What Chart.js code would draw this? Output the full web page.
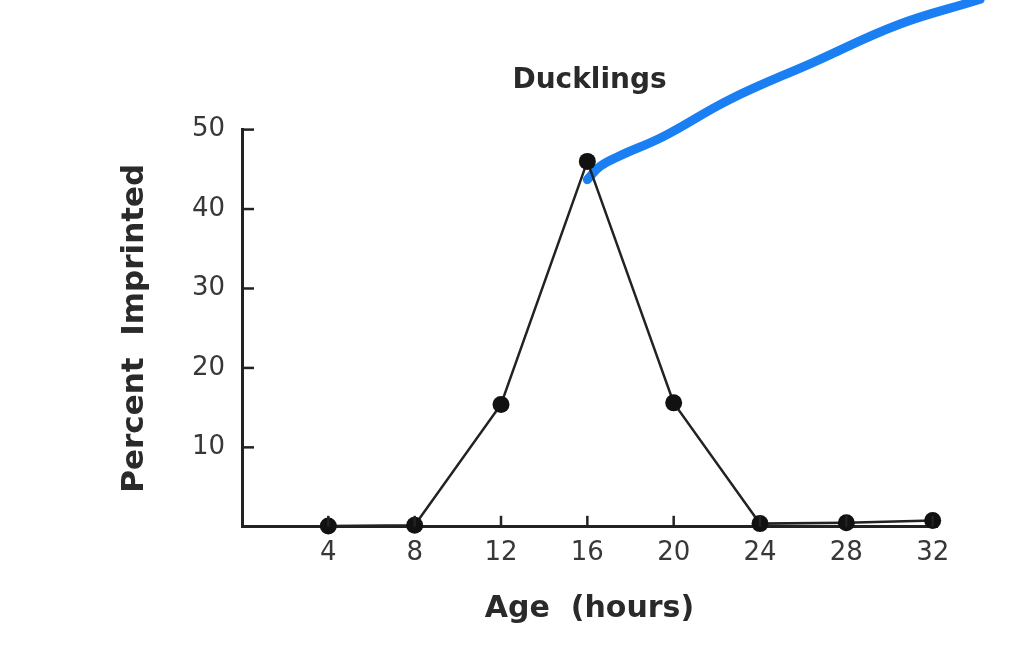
<!DOCTYPE html>
<html>
<head>
<meta charset="utf-8">
<script src="https://cdn.jsdelivr.net/npm/chart.js@4.4.1/dist/chart.umd.min.js"></script>
<style>
  html, body { margin: 0; padding: 0; background: #ffffff; }
  #wrap { width: 1034px; height: 646px; }
</style>
</head>
<body>
<div id="wrap"><canvas id="chart"></canvas></div>
<script>
// Data
const ageHours = [4, 8, 12, 16, 20, 24, 28, 32];
const percentImprinted = [0.1, 0.2, 15.4, 46, 15.6, 0.4, 0.5, 0.8];
const xTickValues = [4, 8, 12, 16, 20, 24, 28, 32];
const yTickValues = [10, 20, 30, 40, 50];

// Blue hand-drawn annotation stroke, in the chart's data units
const noteX = [16.0, 16.6, 17.5, 19.5, 22.6, 26.5, 30.4, 34.2, 37.0];
const noteY = [43.7, 45.4, 46.7, 49.1, 53.8, 58.5, 63.2, 66.4, 68.9];

const ink = '#222222';
const fontFamily = '"DejaVu Sans", Verdana, sans-serif';

// Inward tick marks, like the printed figure
const innerTicks = {
    id: 'innerTicks',
    afterDatasetsDraw(chart) {
        const { ctx, chartArea, scales } = chart;
        ctx.save();
        ctx.strokeStyle = ink;
        ctx.lineWidth = 2.5;
        yTickValues.forEach(v => {
            const py = scales.y.getPixelForValue(v);
            ctx.beginPath();
            ctx.moveTo(chartArea.left, py);
            ctx.lineTo(chartArea.left + 12, py);
            ctx.stroke();
        });
        xTickValues.forEach(v => {
            const px = scales.x.getPixelForValue(v);
            ctx.beginPath();
            ctx.moveTo(px, chartArea.bottom);
            ctx.lineTo(px, chartArea.bottom - 11);
            ctx.stroke();
        });
        ctx.restore();
    }
};

const ctx = document.getElementById('chart').getContext('2d');
new Chart(ctx, {
    type: 'line',
    data: {
        datasets: [{
            label: 'Ducklings',
            data: ageHours.map((a, i) => ({ x: a, y: percentImprinted[i] })),
            borderColor: ink,
            borderWidth: 2.5,
            pointRadius: 8.5,
            pointBackgroundColor: '#111111',
            pointBorderWidth: 0,
            tension: 0,
            clip: false
        }, {
            label: 'note',
            data: noteX.map((a, i) => ({ x: a, y: noteY[i] })),
            borderColor: '#1a7ff2',
            borderWidth: 9,
            borderCapStyle: 'round',
            borderJoinStyle: 'round',
            pointRadius: 0,
            tension: 0.4,
            clip: false
        }]
    },
    options: {
        responsive: true,
        maintainAspectRatio: false,
        animation: false,
        layout: { padding: { left: 100, right: 97, top: 0, bottom: 15 } },
        plugins: {
            legend: { display: false },
            tooltip: { enabled: false },
            title: {
                display: true,
                text: 'Ducklings',
                fullSize: false,
                color: '#2a2a2a',
                font: { family: fontFamily, size: 28, weight: 'bold' },
                padding: { top: 64, bottom: 32 }
            }
        },
        scales: {
            x: {
                type: 'linear',
                min: 0,
                max: 32.2,
                afterBuildTicks: s => { s.ticks = xTickValues.map(v => ({ value: v })); },
                grid: { display: false, drawTicks: false },
                border: { display: true, color: ink, width: 3 },
                ticks: {
                    color: '#383838',
                    padding: 11,
                    maxRotation: 0,
                    font: { family: fontFamily, size: 26 }
                },
                title: {
                    display: true,
                    text: 'Age  (hours)',
                    color: '#2a2a2a',
                    font: { family: fontFamily, size: 30, weight: 'bold' },
                    padding: { top: 11, bottom: 4 }
                }
            },
            y: {
                min: 0,
                max: 50,
                afterBuildTicks: s => { s.ticks = yTickValues.map(v => ({ value: v })); },
                afterFit: s => { s.width = 142; },
                grid: { display: false, drawTicks: false },
                border: { display: true, color: ink, width: 3 },
                ticks: {
                    color: '#383838',
                    padding: 17,
                    font: { family: fontFamily, size: 26 }
                },
                title: {
                    display: true,
                    text: 'Percent  Imprinted',
                    color: '#2a2a2a',
                    font: { family: fontFamily, size: 31, weight: 'bold' },
                    padding: 16
                }
            }
        }
    },
    plugins: [innerTicks]
});
</script>
</body>
</html>
